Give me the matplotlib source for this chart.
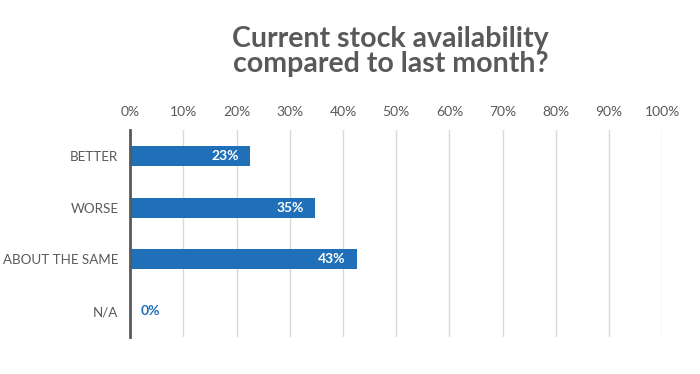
import matplotlib
matplotlib.use("Agg")
import matplotlib.pyplot as plt

categories = ["BETTER", "WORSE", "ABOUT THE SAME", "N/A"]
values = [22.6, 34.8, 42.6, 0]
ticks = [0, 10, 20, 30, 40, 50, 60, 70, 80, 90, 100]

plt.rcParams['font.family'] = ['Lato', 'DejaVu Sans']

blue = "#1F70B8"
gray = "#595959"

fig = plt.figure(figsize=(7, 3.74), dpi=100)
ax = fig.add_axes([0.186, 0.099, 0.76, 0.553])

pos = list(range(len(categories)))
ax.barh(pos, values, height=0.39, color=blue)
ax.set_ylim(3.5, -0.5)
ax.set_xlim(0, 100)

for y, v in zip(pos, values):
    if v > 5:
        ax.text(v - 2.2, y, f"{v:.0f}%", ha="right", va="center",
                color="white", fontsize=10, fontweight="bold")
    else:
        ax.text(v + 2, y, f"{v:.0f}%", ha="left", va="center",
                color=blue, fontsize=10, fontweight="bold")

ax.set_yticks(pos)
ax.set_yticklabels(categories)
ax.set_xticks(ticks)
ax.set_xticklabels([f"{t}%" for t in ticks])
ax.xaxis.tick_top()
ax.tick_params(axis="both", length=0, colors=gray, labelsize=10)
ax.tick_params(axis="y", labelsize=9.6, pad=8.5)
ax.tick_params(axis="x", pad=9)

ax.grid(axis="x", color="#D9D9D9", linewidth=1)
ax.set_axisbelow(True)
for s in ["top", "right", "bottom"]:
    ax.spines[s].set_visible(False)
ax.spines["left"].set_color(gray)
ax.spines["left"].set_linewidth(2)
ax.spines["left"].set_zorder(5)

fig.text(0.558, 0.862, "Current stock availability\ncompared to last month?",
         ha="center", va="center", fontsize=20.5, fontweight="bold",
         color=gray, linespacing=0.95)

fig.savefig("out.png", dpi=100)
